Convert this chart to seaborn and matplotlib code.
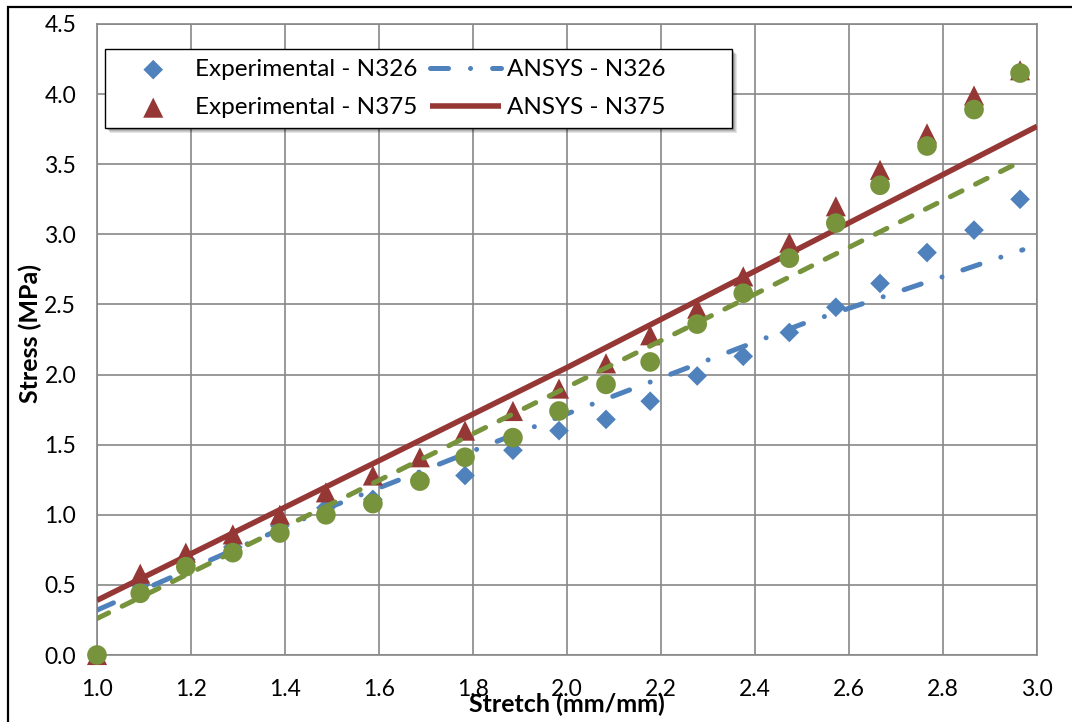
import matplotlib
matplotlib.use("Agg")
import matplotlib.pyplot as plt
from matplotlib.patches import Rectangle
import seaborn as sns

# ---- data -------------------------------------------------------------
stretch = [1.0, 1.092, 1.189, 1.289, 1.389, 1.487, 1.587, 1.687, 1.783, 1.885,
           1.983, 2.083, 2.177, 2.277, 2.375, 2.473, 2.572, 2.666, 2.766, 2.866, 2.964]
exp_n326 = [0.0, 0.50, 0.68, 0.77, 0.92, 1.05, 1.11, 1.25, 1.28, 1.46,
            1.60, 1.68, 1.81, 1.99, 2.13, 2.30, 2.48, 2.65, 2.87, 3.03, 3.25]
exp_n375 = [0.0, 0.58, 0.73, 0.86, 1.00, 1.16, 1.28, 1.41, 1.60, 1.74,
            1.90, 2.08, 2.28, 2.47, 2.70, 2.94, 3.20, 3.46, 3.72, 3.99, 4.17]
exp_extra = [0.0, 0.44, 0.63, 0.73, 0.87, 1.00, 1.08, 1.24, 1.41, 1.55,
             1.74, 1.93, 2.09, 2.36, 2.58, 2.83, 3.08, 3.35, 3.63, 3.89, 4.15]

ansys_n326_x = [1.0, 1.5, 2.0, 2.5, 2.97]
ansys_n326_y = [0.32, 1.06, 1.72, 2.36, 2.89]
ansys_n375_x = [1.0, 1.5, 2.0, 2.5, 3.0]
ansys_n375_y = [0.39, 1.22, 2.05, 2.91, 3.77]
ansys_extra_x = [1.0, 1.5, 2.0, 2.5, 2.96]
ansys_extra_y = [0.26, 1.08, 1.91, 2.74, 3.51]

x_ticks = [1.0, 1.2, 1.4, 1.6, 1.8, 2.0, 2.2, 2.4, 2.6, 2.8, 3.0]
y_ticks = [0.0, 0.5, 1.0, 1.5, 2.0, 2.5, 3.0, 3.5, 4.0, 4.5]

labels = ["Experimental - N326", "Experimental - N375",
          "ANSYS - N326", "ANSYS - N375"]

# ---- style ------------------------------------------------------------
BLUE = "#4F81BD"
RED = "#953735"
GREEN = "#77933C"
GRID = "#878787"

sns.set_theme(style="white")
plt.rcParams["font.family"] = ["Lato", "DejaVu Sans"]

W, H = 1072, 722
fig = plt.figure(figsize=(W / 100, H / 100), dpi=100)
ax = fig.add_axes([97 / W, (H - 655) / H, (1037 - 97) / W, (655 - 24) / H])

# ---- series -------------------------------------------------------------
sc_kw = dict(linewidth=0, edgecolor="none", clip_on=False, legend=False, ax=ax)
h1 = sns.scatterplot(x=stretch, y=exp_n326, marker="D", s=100, color=BLUE,
                     zorder=3, **sc_kw).collections[-1]
sns.lineplot(x=ansys_n326_x, y=ansys_n326_y, color=BLUE, linewidth=3.6,
             linestyle=(0, (3.6, 4.4, 0.01, 4.4)), dash_capstyle="round",
             errorbar=None, ax=ax, zorder=4)
h3 = ax.lines[-1]
h2 = sns.scatterplot(x=stretch, y=exp_n375, marker="^", s=210, color=RED,
                     zorder=5, **sc_kw).collections[-1]
sns.lineplot(x=ansys_n375_x, y=ansys_n375_y, color=RED, linewidth=4.0,
             solid_capstyle="butt", errorbar=None, ax=ax, zorder=6)
h4 = ax.lines[-1]
sns.scatterplot(x=stretch, y=exp_extra, marker="o", s=200, color=GREEN,
                zorder=7, **sc_kw)
sns.lineplot(x=ansys_extra_x, y=ansys_extra_y, color=GREEN, linewidth=3.6,
             linestyle=(0, (2.6, 3.0)), dash_capstyle="round",
             errorbar=None, ax=ax, zorder=8)

# ---- axes -----------------------------------------------------------------
ax.set_xlim(1.0, 3.0)
ax.set_ylim(0.0, 4.5)
ax.set_xticks(x_ticks)
ax.set_xticklabels([f"{v:.1f}" for v in x_ticks])
ax.set_yticks(y_ticks)
ax.set_yticklabels([f"{v:.1f}" for v in y_ticks])
ax.grid(True, color=GRID, linewidth=1.2)
ax.set_axisbelow(True)
for sp in ax.spines.values():
    sp.set_color(GRID)
    sp.set_linewidth(1.2)
ax.tick_params(axis="both", which="major", direction="out", length=6,
               width=1.2, color=GRID, labelsize=16.5, labelcolor="black")
ax.tick_params(axis="x", pad=11)
ax.tick_params(axis="y", pad=9)

ax.set_xlabel("Stretch (mm/mm)", fontsize=18, fontweight="bold", color="black")
ax.set_ylabel("Stress (MPa)", fontsize=18, fontweight="bold", color="black")
ax.xaxis.set_label_coords(0.5, -0.060)
ax.yaxis.set_label_coords(-0.058, 0.51)

# ---- legend frame with a soft drop shadow ---------------------------------------
bx0, by0, bx1, by1 = 105, 49, 732, 128
for i, a in enumerate([0.10, 0.10, 0.12, 0.14]):
    off = 5 - i
    fig.patches.append(Rectangle(((bx0 + off) / W, (H - by1 - off) / H),
                                 (bx1 - bx0) / W, (by1 - by0) / H,
                                 transform=fig.transFigure, facecolor="black",
                                 edgecolor="none", alpha=a, zorder=15))
fig.patches.append(Rectangle((bx0 / W, (H - by1) / H), (bx1 - bx0) / W,
                             (by1 - by0) / H, transform=fig.transFigure,
                             facecolor="white", edgecolor="black",
                             linewidth=1.0, zorder=16))

# ---- legend entries (figure level so they sit above the frame) -----------------
leg = fig.legend([h1, h2, h3, h4], labels, ncol=2, frameon=False,
                 loc="upper left", bbox_to_anchor=(118 / W, (H - 59) / H),
                 bbox_transform=fig.transFigure, borderpad=0, borderaxespad=0,
                 fontsize=17.5, handlelength=2.9, handletextpad=0.25,
                 columnspacing=0.55, labelspacing=0.70, scatterpoints=1)
leg.set_zorder(20)
for t in leg.get_texts():
    t.set_color("black")

# chart area outline
fig.patches.append(Rectangle((8 / W, -0.05), 1.2, (H - 7) / H + 0.05,
                             transform=fig.transFigure, facecolor="none",
                             edgecolor="black", linewidth=1.6, zorder=30))

fig.savefig("out.png", dpi=100)
